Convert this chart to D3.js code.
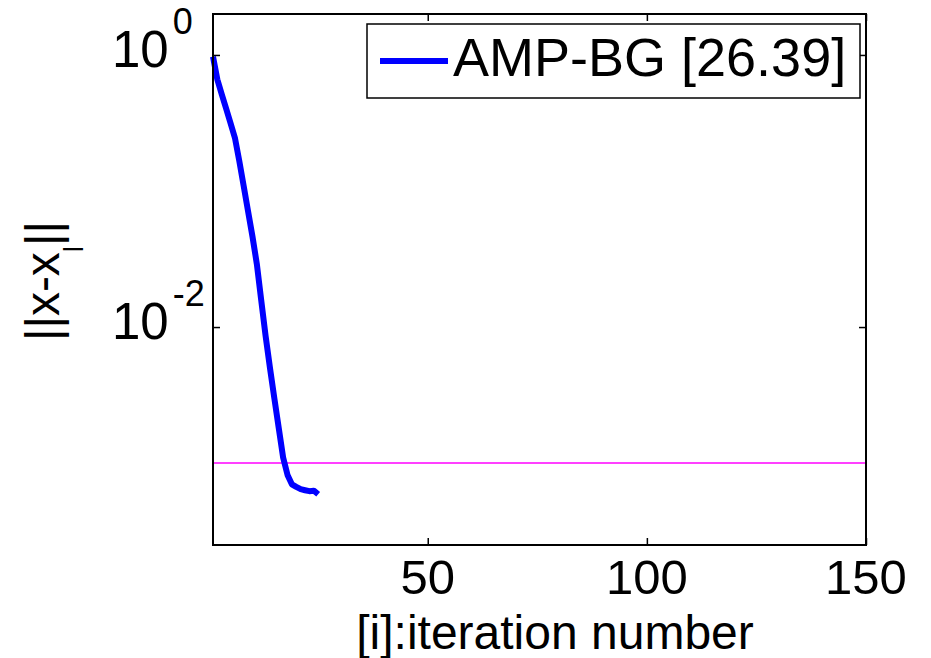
<!DOCTYPE html>
<html>
<head>
<meta charset="utf-8">
<script src="https://cdn.jsdelivr.net/npm/d3@7"></script>
<style>
    body { margin: 0; background: #fff; }
    text { font-family: "Liberation Sans", Arial, Helvetica, sans-serif; fill: #000; }
</style>
</head>
<body>
<script>
// iteration index and ||x - x_l||
const iterations = [1, 2, 3, 4, 5, 6, 7, 8, 9, 10, 11, 12, 13, 14, 15, 16, 17, 18, 19, 20, 21, 22, 23, 24, 25];
const errorValues = [
    0.972, 0.659, 0.514, 0.403, 0.315, 0.246, 0.166, 0.109, 0.0711, 0.0464,
    0.0291, 0.0158, 0.00862, 0.00500, 0.00299, 0.00181, 0.00110, 0.000819,
    0.000698, 0.000668, 0.000643, 0.000632, 0.000622, 0.000627, 0.000590
];
const thresholdValue = [0.001];
const xTicks = [50, 100, 150];
const yTicks = [1, 0.01];
const yTickExponents = ["0", "-2"];
const legendLabels = ["AMP-BG [26.39]"];

const width = 931;
const height = 658;
const plot = { left: 213, right: 866, top: 14, bottom: 545 };

const svg = d3.select("body")
    .append("svg")
    .attr("width", width)
    .attr("height", height);

const scaleX = d3.scaleLinear()
    .domain([1, 150])
    .range([plot.left, plot.right]);
const scaleY = d3.scaleLog()
    .domain([2.5e-4, 2])
    .range([plot.bottom, plot.top]);

const data = iterations.map((it, i) => ({ it: it, v: errorValues[i] }));

// threshold line
svg.selectAll("line.threshold")
    .data(thresholdValue)
    .enter()
    .append("line")
    .attr("class", "threshold")
    .attr("x1", plot.left)
    .attr("x2", plot.right)
    .attr("y1", d => scaleY(d))
    .attr("y2", d => scaleY(d))
    .attr("stroke", "#ff00ff")
    .attr("stroke-width", 1.5);

const line = d3.line()
    .x(d => scaleX(d.it))
    .y(d => scaleY(d.v));

svg.append("path")
    .datum(data)
    .attr("d", line)
    .attr("fill", "none")
    .attr("stroke", "#0000ff")
    .attr("stroke-width", 6)
    .attr("stroke-linejoin", "round");

// axes box
svg.append("rect")
    .attr("x", plot.left)
    .attr("y", plot.top)
    .attr("width", plot.right - plot.left)
    .attr("height", plot.bottom - plot.top)
    .attr("fill", "none")
    .attr("stroke", "#000")
    .attr("stroke-width", 2);

// inward ticks, matlab style
const tickLen = 7;
const xAxisBottom = d3.axisBottom(scaleX).tickValues(xTicks).tickSize(-tickLen).tickFormat("");
const xAxisTop = d3.axisTop(scaleX).tickValues(xTicks).tickSize(-tickLen).tickFormat("");
const yAxisLeft = d3.axisLeft(scaleY).tickValues(yTicks).tickSize(-tickLen).tickFormat("");
const yAxisRight = d3.axisRight(scaleY).tickValues(yTicks).tickSize(-tickLen).tickFormat("");

svg.append("g").attr("transform", `translate(0,${plot.bottom})`).call(xAxisBottom);
svg.append("g").attr("transform", `translate(0,${plot.top})`).call(xAxisTop);
svg.append("g").attr("transform", `translate(${plot.left},0)`).call(yAxisLeft);
svg.append("g").attr("transform", `translate(${plot.right},0)`).call(yAxisRight);
svg.selectAll(".domain").remove();
svg.selectAll(".tick line").attr("stroke", "#000").attr("stroke-width", 1.5);

// x tick labels
svg.selectAll("text.xtick")
    .data(xTicks)
    .enter()
    .append("text")
    .attr("class", "xtick")
    .attr("x", d => scaleX(d))
    .attr("y", 594)
    .attr("text-anchor", "middle")
    .style("font-size", "49px")
    .text(d => d);

// y tick labels as 10^n, left aligned like the original
const yLabels = svg.selectAll("text.ytick")
    .data(yTicks)
    .enter()
    .append("text")
    .attr("class", "ytick")
    .attr("x", 112)
    .attr("y", d => scaleY(d) + 12)
    .style("font-size", "51px");
yLabels.append("tspan").text("10");
yLabels.append("tspan")
    .attr("dx", 4)
    .attr("dy", -33)
    .style("font-size", "36px")
    .text((d, i) => yTickExponents[i]);

// axis titles
svg.append("text")
    .attr("x", 555)
    .attr("y", 649)
    .attr("text-anchor", "middle")
    .style("font-size", "48px")
    .text("[i]:iteration number");

const yTitle = svg.append("text")
    .attr("transform", "translate(59,281) rotate(-90)")
    .attr("text-anchor", "middle")
    .style("font-size", "48px");
yTitle.append("tspan").text("||x-x");
yTitle.append("tspan").attr("dy", 24).style("font-size", "28px").text("l");
yTitle.append("tspan").attr("dy", -24).text("||");

// legend
const legend = svg.append("g").attr("class", "legend");
legend.append("rect")
    .attr("x", 367)
    .attr("y", 24)
    .attr("width", 493)
    .attr("height", 74)
    .attr("fill", "#fff")
    .attr("stroke", "#000")
    .attr("stroke-width", 1.5);
legend.selectAll("line")
    .data(legendLabels)
    .enter()
    .append("line")
    .attr("x1", 380)
    .attr("x2", 448)
    .attr("y1", 61)
    .attr("y2", 61)
    .attr("stroke", "#0000ff")
    .attr("stroke-width", 6);
legend.selectAll("text")
    .data(legendLabels)
    .enter()
    .append("text")
    .attr("x", 453)
    .attr("y", 76)
    .style("font-size", "54px")
    .text(d => d);
</script>
</body>
</html>
